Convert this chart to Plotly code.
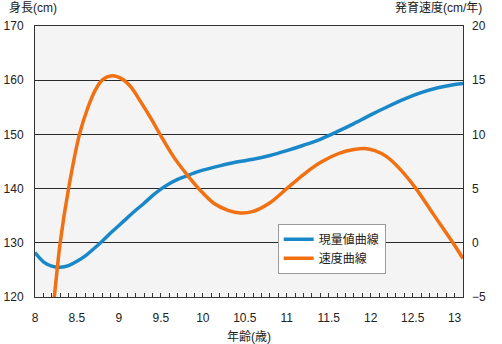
import plotly.graph_objects as go

# 現量値曲線 (height, cm)
age_h = [8.0, 8.1, 8.2, 8.3, 8.4, 8.5, 8.6, 8.7, 8.8, 8.9, 9.0, 9.1, 9.2, 9.3, 9.4,
         9.5, 9.6, 9.7, 9.8, 9.9, 10.0, 10.2, 10.4, 10.6, 10.8, 11.0, 11.2, 11.4,
         11.6, 11.8, 12.0, 12.2, 12.4, 12.6, 12.8, 13.0, 13.1]
height = [128.2, 126.5, 125.7, 125.5, 125.8, 126.6, 127.6, 128.9, 130.3, 131.8, 133.2,
          134.6, 136.0, 137.3, 138.7, 139.9, 140.9, 141.7, 142.3, 142.9, 143.4, 144.2,
          144.9, 145.4, 146.1, 147.0, 148.0, 149.1, 150.5, 152.0, 153.6, 155.1, 156.5,
          157.7, 158.6, 159.2, 159.4]

# 速度曲線 (velocity, cm/年)
age_v = [8.17, 8.23, 8.3, 8.40, 8.53, 8.62, 8.72, 8.80, 8.92, 9.04, 9.14, 9.26, 9.38,
         9.49, 9.65, 9.83, 9.95, 10.13, 10.3, 10.45, 10.6, 10.8, 11.0, 11.2, 11.4,
         11.64, 11.8, 11.93, 12.05, 12.19, 12.35, 12.54, 12.75, 12.98, 13.1]
velocity = [-9.0, -5.0, 0.0, 5.0, 10.0, 12.25, 14.1, 15.0, 15.4, 15.1, 14.4, 13.0, 11.5,
            10.0, 7.95, 6.1, 5.0, 3.65, 3.0, 2.75, 2.9, 3.7, 5.0, 6.3, 7.4,
            8.3, 8.6, 8.7, 8.5, 7.95, 6.8, 5.0, 2.6, 0.0, -1.45]

x_ticks = [8, 8.5, 9, 9.5, 10, 10.5, 11, 11.5, 12, 12.5, 13]
x_labels = ["8", "8.5", "9", "9.5", "10", "10.5", "11", "11.5", "12", "12.5", "13"]

FONT = "Liberation Sans, Arial, Noto Sans CJK JP, sans-serif"
AX = "#333333"

fig = go.Figure()
fig.add_trace(go.Scatter(x=age_h, y=height, mode="lines", name="現量値曲線",
                         line=dict(color="#1a88c8", width=3.5, shape="spline", smoothing=0.9)))
fig.add_trace(go.Scatter(x=age_v, y=velocity, mode="lines", name="速度曲線", yaxis="y2",
                         line=dict(color="#f07012", width=3.5, shape="spline", smoothing=0.9)))

fig.update_layout(
    width=502, height=344,
    margin=dict(l=34.5, r=39, t=26, b=47),
    paper_bgcolor="white", plot_bgcolor="#f4f4f4",
    font=dict(family=FONT, size=12, color="#222222"),
    showlegend=True,
    legend=dict(x=0.567, y=0.27, xanchor="left", yanchor="top",
                bgcolor="white", bordercolor="#999999", borderwidth=1,
                font=dict(size=12), tracegroupgap=0),
    xaxis=dict(range=[8, 13.1], tickvals=x_ticks, ticktext=x_labels, automargin=False,
               ticks="inside", ticklen=4, tickcolor=AX, showgrid=False,
               minor=dict(dtick=0.1, tick0=8, ticks="inside", ticklen=4, tickcolor=AX, showgrid=False),
               showline=True, linecolor=AX, linewidth=1, mirror=True,
               zeroline=False, ticklabelstandoff=10),
    yaxis=dict(range=[120, 170], dtick=10, showgrid=True, gridcolor="#2a2a2a", gridwidth=1,
               showline=True, linecolor=AX, linewidth=1, mirror=True, automargin=False,
               zeroline=False, ticks="", ticklabelstandoff=8),
    yaxis2=dict(range=[-5, 20], dtick=5, overlaying="y", side="right", showgrid=False,
                automargin=False,
                zeroline=False, ticks="", ticklabelstandoff=8, showline=False),
    annotations=[
        dict(text="身長(cm)", xref="paper", yref="paper", x=-0.066, y=1.07,
             xanchor="left", yanchor="middle", showarrow=False, font=dict(size=12)),
        dict(text="発育速度(cm/年)", xref="paper", yref="paper", x=1.05, y=1.07,
             xanchor="right", yanchor="middle", showarrow=False, font=dict(size=12)),
        dict(text="年齢(歳)", xref="paper", yref="paper", x=0.5, y=-0.148,
             xanchor="center", yanchor="middle", showarrow=False, font=dict(size=12)),
    ],
)

fig.write_html("out.html")
